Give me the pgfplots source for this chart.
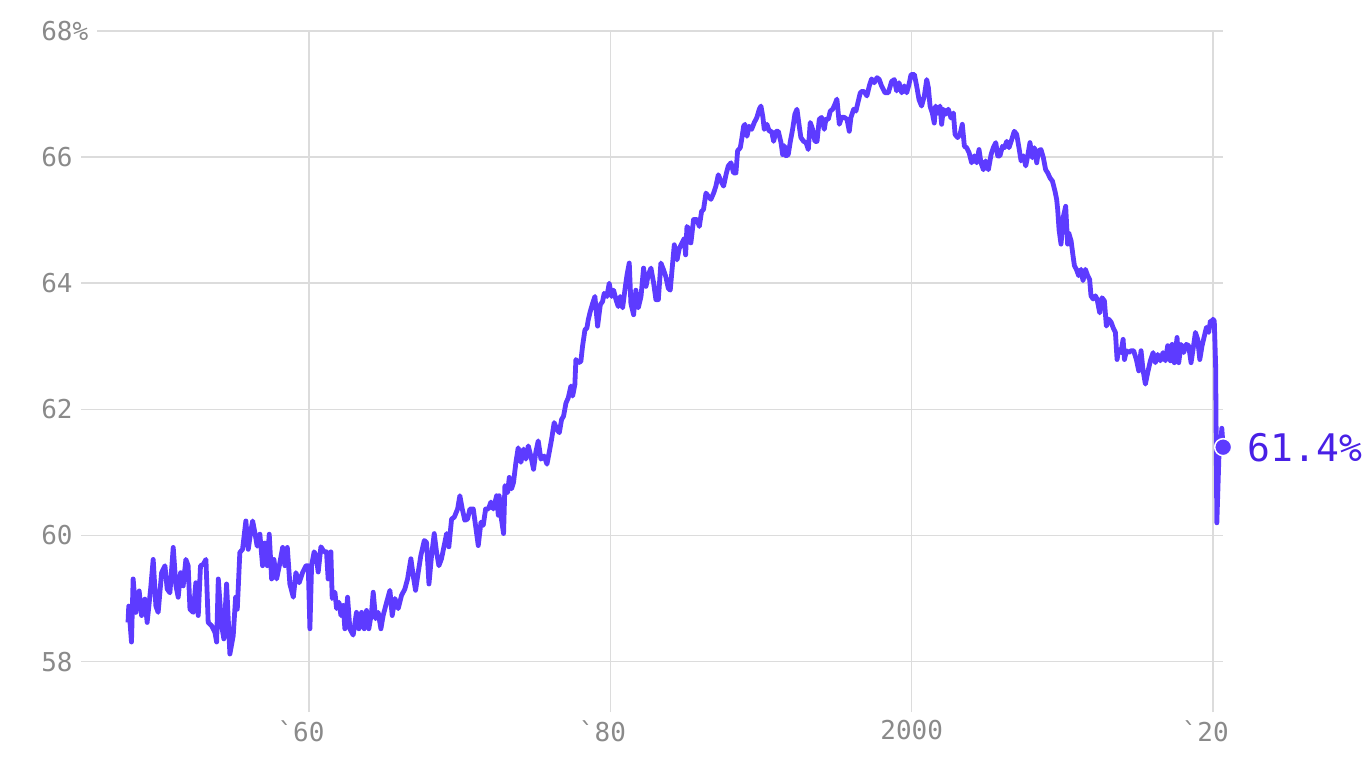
\documentclass[border=0pt]{standalone}
\usepackage{fontspec}
\setmonofont{DejaVu Sans Mono}
\usepackage{pgfplots}
\usepackage{pgfplotstable}
\pgfplotsset{compat=1.18}

\definecolor{linecol}{RGB}{93,59,255}
\definecolor{labelcol}{RGB}{72,32,230}
\definecolor{tickgray}{RGB}{138,138,138}
\definecolor{gridgray}{RGB}{220,220,220}

% labour force participation rate
\pgfplotstableread{
year rate
1948.00 58.62
1948.05 58.88
1948.23 58.31
1948.34 59.31
1948.52 58.78
1948.74 59.12
1948.90 58.73
1949.12 58.99
1949.27 58.62
1949.50 59.15
1949.67 59.62
1949.85 58.88
1950.00 58.78
1950.23 59.41
1950.45 59.52
1950.60 59.15
1950.78 59.09
1951.00 59.81
1951.18 59.20
1951.33 59.02
1951.49 59.41
1951.66 59.20
1951.84 59.62
1951.99 59.52
1952.11 58.83
1952.33 58.78
1952.50 59.25
1952.66 58.73
1952.81 59.52
1952.99 59.54
1953.17 59.62
1953.32 58.62
1953.54 58.57
1953.77 58.46
1953.88 58.31
1953.99 59.31
1954.21 58.57
1954.36 58.36
1954.54 59.23
1954.76 58.12
1954.98 58.41
1955.14 59.02
1955.25 58.83
1955.42 59.73
1955.60 59.78
1955.82 60.23
1955.98 59.78
1956.13 60.04
1956.27 60.23
1956.42 60.04
1956.57 59.83
1956.75 60.02
1956.93 59.52
1957.08 59.88
1957.24 59.52
1957.37 60.02
1957.53 59.31
1957.68 59.62
1957.86 59.31
1958.04 59.52
1958.26 59.81
1958.41 59.52
1958.57 59.81
1958.74 59.23
1958.97 59.02
1959.14 59.41
1959.36 59.25
1959.58 59.41
1959.81 59.52
1959.96 59.52
1960.07 58.52
1960.18 59.52
1960.35 59.74
1960.48 59.68
1960.62 59.42
1960.80 59.82
1961.02 59.74
1961.17 59.74
1961.28 59.31
1961.46 59.74
1961.55 59.00
1961.73 59.10
1961.84 58.84
1962.00 58.94
1962.13 58.73
1962.28 58.89
1962.39 58.52
1962.57 59.02
1962.72 58.52
1962.94 58.42
1963.16 58.78
1963.32 58.52
1963.50 58.78
1963.67 58.52
1963.83 58.81
1963.98 58.52
1964.16 58.78
1964.27 59.10
1964.43 58.68
1964.60 58.78
1964.78 58.52
1964.93 58.73
1965.16 58.94
1965.38 59.13
1965.53 58.73
1965.71 59.00
1965.93 58.84
1966.15 59.05
1966.37 59.15
1966.55 59.31
1966.77 59.63
1966.92 59.37
1967.08 59.13
1967.26 59.42
1967.43 59.68
1967.66 59.92
1967.81 59.89
1967.97 59.23
1968.14 59.68
1968.32 60.03
1968.47 59.74
1968.63 59.52
1968.80 59.63
1968.98 59.84
1969.14 60.03
1969.29 59.82
1969.47 60.26
1969.65 60.29
1969.87 60.42
1970.02 60.63
1970.18 60.42
1970.35 60.24
1970.53 60.26
1970.69 60.42
1970.91 60.42
1971.06 60.16
1971.24 59.84
1971.42 60.21
1971.57 60.16
1971.73 60.42
1971.91 60.42
1972.08 60.53
1972.24 60.42
1972.46 60.63
1972.57 60.32
1972.63 60.63
1972.74 60.32
1972.92 60.03
1973.01 60.79
1973.19 60.68
1973.30 60.92
1973.45 60.74
1973.58 60.84
1973.74 61.16
1973.89 61.39
1974.07 61.16
1974.25 61.37
1974.40 61.21
1974.56 61.42
1974.73 61.26
1974.91 61.05
1975.06 61.32
1975.22 61.50
1975.40 61.21
1975.62 61.26
1975.80 61.13
1975.95 61.32
1976.11 61.53
1976.28 61.79
1976.46 61.68
1976.62 61.63
1976.77 61.84
1976.90 61.89
1977.06 62.10
1977.21 62.18
1977.39 62.37
1977.50 62.21
1977.65 62.39
1977.72 62.79
1977.88 62.74
1978.05 62.76
1978.16 63.00
1978.32 63.26
1978.45 63.29
1978.54 63.42
1978.67 63.55
1978.83 63.68
1978.98 63.79
1979.16 63.32
1979.34 63.66
1979.49 63.71
1979.60 63.84
1979.78 63.79
1979.93 64.00
1980.09 63.79
1980.22 63.89
1980.38 63.74
1980.53 63.63
1980.66 63.79
1980.82 63.61
1980.97 63.89
1981.11 64.13
1981.26 64.32
1981.37 63.68
1981.55 63.50
1981.70 63.89
1981.86 63.61
1982.04 63.79
1982.21 64.24
1982.37 63.95
1982.52 64.13
1982.70 64.24
1982.88 64.00
1983.03 63.74
1983.19 63.74
1983.36 64.32
1983.54 64.21
1983.69 64.10
1983.85 63.92
1983.98 63.89
1984.14 64.32
1984.25 64.61
1984.43 64.37
1984.58 64.55
1984.74 64.63
1984.91 64.71
1985.00 64.45
1985.09 64.90
1985.24 64.85
1985.35 64.64
1985.53 65.01
1985.75 65.01
1985.91 64.90
1986.06 65.14
1986.19 65.17
1986.35 65.43
1986.50 65.38
1986.68 65.33
1986.86 65.43
1987.01 65.54
1987.17 65.72
1987.34 65.62
1987.52 65.54
1987.68 65.72
1987.83 65.86
1988.01 65.91
1988.18 65.75
1988.34 65.75
1988.45 66.10
1988.63 66.15
1988.72 66.28
1988.85 66.49
1988.94 66.52
1989.07 66.33
1989.22 66.49
1989.38 66.44
1989.56 66.55
1989.73 66.63
1989.89 66.76
1990.00 66.81
1990.13 66.63
1990.22 66.44
1990.40 66.52
1990.55 66.41
1990.71 66.41
1990.84 66.25
1991.00 66.41
1991.15 66.41
1991.33 66.23
1991.44 66.04
1991.55 66.18
1991.66 66.02
1991.81 66.04
1991.95 66.25
1992.10 66.44
1992.25 66.68
1992.39 66.76
1992.54 66.49
1992.65 66.31
1992.83 66.25
1992.99 66.23
1993.14 66.12
1993.27 66.55
1993.43 66.44
1993.58 66.25
1993.72 66.25
1993.87 66.60
1994.02 66.63
1994.20 66.44
1994.31 66.60
1994.47 66.60
1994.60 66.73
1994.76 66.76
1994.91 66.84
1995.04 66.92
1995.20 66.52
1995.35 66.63
1995.53 66.63
1995.71 66.60
1995.86 66.41
1995.97 66.63
1996.15 66.76
1996.30 66.73
1996.46 66.89
1996.59 67.02
1996.75 67.05
1996.90 67.02
1997.03 66.97
1997.19 67.13
1997.34 67.24
1997.52 67.18
1997.70 67.26
1997.85 67.23
1998.00 67.13
1998.23 67.02
1998.45 67.02
1998.67 67.20
1998.85 67.23
1999.00 67.05
1999.16 67.18
1999.34 67.02
1999.51 67.13
1999.67 67.02
1999.82 67.15
1999.96 67.31
2000.18 67.31
2000.33 67.13
2000.49 66.91
2000.66 66.81
2000.84 66.97
2001.00 67.23
2001.11 67.10
2001.22 66.81
2001.37 66.70
2001.50 66.54
2001.59 66.81
2001.73 66.70
2001.88 66.81
2001.99 66.52
2002.10 66.76
2002.26 66.68
2002.43 66.76
2002.61 66.62
2002.77 66.70
2002.88 66.36
2003.05 66.31
2003.21 66.36
2003.36 66.52
2003.50 66.17
2003.65 66.15
2003.81 66.07
2003.98 65.91
2004.16 66.02
2004.31 65.91
2004.47 66.12
2004.60 65.91
2004.76 65.80
2004.91 65.94
2005.09 65.80
2005.27 66.04
2005.42 66.15
2005.58 66.23
2005.71 66.02
2005.86 66.02
2006.02 66.17
2006.15 66.15
2006.31 66.25
2006.46 66.15
2006.64 66.28
2006.81 66.41
2006.97 66.36
2007.12 66.15
2007.26 65.94
2007.42 66.02
2007.57 65.86
2007.70 66.02
2007.85 66.23
2008.01 65.99
2008.14 66.15
2008.30 65.91
2008.41 66.10
2008.58 66.12
2008.74 65.99
2008.89 65.80
2009.03 65.75
2009.18 65.67
2009.34 65.62
2009.51 65.46
2009.62 65.33
2009.69 65.17
2009.78 64.85
2009.91 64.62
2010.07 65.06
2010.22 65.22
2010.35 64.62
2010.42 64.80
2010.58 64.67
2010.71 64.43
2010.80 64.28
2010.93 64.22
2011.08 64.12
2011.24 64.22
2011.37 64.04
2011.53 64.22
2011.68 64.12
2011.81 64.06
2011.90 63.80
2012.04 63.75
2012.19 63.80
2012.30 63.75
2012.48 63.53
2012.63 63.77
2012.79 63.72
2012.92 63.32
2013.08 63.43
2013.24 63.38
2013.36 63.30
2013.52 63.22
2013.63 62.79
2013.74 62.95
2013.89 62.90
2014.03 63.11
2014.12 62.79
2014.25 62.93
2014.40 62.90
2014.56 62.93
2014.73 62.93
2014.91 62.79
2015.07 62.61
2015.22 62.93
2015.35 62.63
2015.51 62.40
2015.66 62.58
2015.84 62.77
2016.02 62.90
2016.17 62.74
2016.33 62.87
2016.50 62.77
2016.68 62.90
2016.84 62.77
2016.99 63.01
2017.17 62.77
2017.28 63.03
2017.43 62.74
2017.61 63.14
2017.72 62.74
2017.88 63.03
2018.05 62.90
2018.23 63.03
2018.38 63.01
2018.54 62.74
2018.67 62.95
2018.83 63.22
2018.98 63.11
2019.12 62.79
2019.27 63.01
2019.42 63.16
2019.56 63.30
2019.71 63.22
2019.82 63.40
2019.93 63.32
2020.00 63.43
2020.08 63.40
2020.17 62.70
2020.25 60.20
2020.33 60.80
2020.42 61.50
2020.50 61.40
2020.58 61.70
2020.67 61.40
}\lfpr

\begin{document}
\begin{tikzpicture}
\path[use as bounding box] (-40.5pt,-28pt) rectangle (642.5pt,356pt);
\begin{axis}[
  at={(0,0)}, anchor=south west,
  width=571pt, height=340.5pt, scale only axis,
  xmin=1944.88, xmax=2020.66,
  ymin=57.2, ymax=68,
  axis line style={draw=none},
  major tick length=0pt,
  tick style={draw=none},
  xtick={1960,1980,2000,2020},
  xticklabels={\llap{`}60,\llap{`}80,2000,\llap{`}20},
  ytick={58,60,62,64,66,68},
  yticklabels={58,60,62,64,66,{68\rlap{\fboxsep=0pt\colorbox{white}{\%\hspace{4.5pt}}}}},
  grid=major,
  major grid style={gridgray, line width=0.75pt},
  tick label style={font=\ttfamily\fontsize{13}{15}\selectfont, text=tickgray},
  xticklabel style={anchor=north, inner sep=0pt, yshift=-4pt},
  yticklabel style={anchor=east, inner sep=0pt, xshift=-4pt},
  clip=false,
]
\addplot[linecol, line width=2.4pt, line join=round, no markers] table[x=year, y=rate] {\lfpr};
\addplot[only marks, mark=*, mark size=4.25pt,
  mark options={fill=linecol, draw=white, line width=0.75pt}] coordinates {(2020.67,61.4)};
\node[anchor=west, inner sep=0pt, text=labelcol, font=\ttfamily\fontsize{19}{22}\selectfont,
  xshift=12pt] at (axis cs:2020.67,61.4) {61.4\%};
\end{axis}
\end{tikzpicture}
\end{document}
